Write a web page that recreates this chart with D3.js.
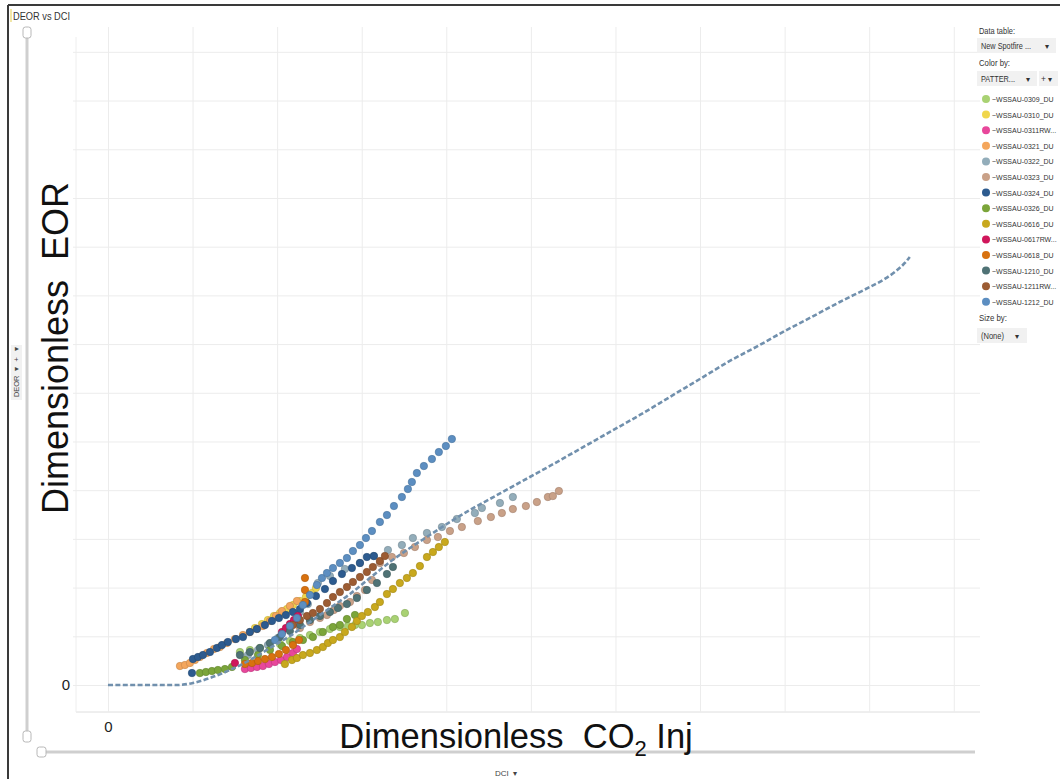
<!DOCTYPE html>
<html><head><meta charset="utf-8">
<script src="https://cdn.jsdelivr.net/npm/d3@7"></script>
<style>html,body{margin:0;padding:0;background:#fff;}svg{display:block;}text{white-space:pre;}</style>
</head><body>
<svg id="c" width="1060" height="779"></svg>
<script>
// ---------------- DATA ----------------
const seriesNames = ["~WSSAU-0309_DU","~WSSAU-0310_DU","~WSSAU-0311RW...","~WSSAU-0321_DU","~WSSAU-0322_DU","~WSSAU-0323_DU","~WSSAU-0324_DU","~WSSAU-0326_DU","~WSSAU-0616_DU","~WSSAU-0617RW...","~WSSAU-0618_DU","~WSSAU-1210_DU","~WSSAU-1211RW...","~WSSAU-1212_DU"];
const seriesColors = ["#a9d273","#f0d64c","#e8479b","#f4a65c","#93adba","#c9a188","#2d5b8f","#7ba53a","#c8a81d","#d0165b","#d8710f","#4f7275","#9c5c33","#5c8ec1"];

const s0309x=[1.560,1.678,1.797,1.915,2.033,2.151,2.270,2.388,2.506,2.624,2.742,2.837,2.920,3.002,3.097,3.191,3.298,3.392,3.511];
const s0309y=[0.677,0.719,0.760,0.801,0.842,0.903,0.965,1.027,1.088,1.150,1.191,1.211,1.232,1.232,1.273,1.293,1.334,1.355,1.478];
const s0310x=[1.738,1.820,1.891,1.962,2.033,2.116,2.187,2.270,2.340,2.411,2.459];
const s0310y=[1.170,1.252,1.334,1.417,1.478,1.560,1.642,1.725,1.807,1.889,1.991];
const s0311x=[1.619,1.690,1.761,1.832,1.903,1.974,2.045,2.116,2.187,2.234];
const s0311y=[0.328,0.349,0.370,0.390,0.431,0.472,0.513,0.575,0.657,0.739];
const s0321x=[0.851,0.910,0.969,1.028,1.087,1.170,1.253,1.324,1.407,1.501,1.596,1.678,1.761,1.832,1.915,1.986,2.057,2.151,2.234];
const s0321y=[0.390,0.411,0.452,0.513,0.575,0.657,0.739,0.780,0.862,0.944,1.027,1.088,1.150,1.211,1.314,1.417,1.519,1.622,1.725];
const s0322x=[1.655,1.773,1.891,2.009,2.128,2.270,2.364,2.482,2.624,2.801,2.979,3.144,3.310,3.475,3.605,3.771,3.948,4.125,4.338,4.421,4.634,4.787];
const s0322y=[0.616,0.719,0.821,0.965,1.170,1.499,1.663,2.094,2.238,2.381,2.505,2.648,2.772,2.874,3.018,3.121,3.244,3.408,3.531,3.634,3.737,3.860];
const s0323x=[2.270,2.388,2.506,2.589,2.671,2.742,2.861,2.943,3.038,3.121,3.215,3.357,3.499,3.629,3.771,3.901,4.043,4.184,4.373,4.527,4.657,4.787,4.941,5.071,5.201,5.260,5.331];
const s0323y=[1.170,1.293,1.376,1.437,1.540,1.622,1.704,1.827,1.950,2.156,2.505,2.628,2.710,2.833,2.977,3.038,3.162,3.244,3.367,3.449,3.531,3.613,3.675,3.757,3.860,3.880,3.983];
const s0324x=[0.993,1.005,1.064,1.123,1.206,1.288,1.348,1.418,1.513,1.596,1.678,1.761,1.856,1.939,2.021,2.104,2.187,2.270,2.352,2.459,2.565,2.660,2.766,2.884,2.979,3.061,3.144];
const s0324y=[0.246,0.534,0.575,0.616,0.677,0.760,0.821,0.883,0.944,0.985,1.088,1.150,1.232,1.314,1.376,1.437,1.499,1.560,1.683,1.827,1.971,2.135,2.279,2.402,2.505,2.628,2.648];
const s0326x=[1.087,1.158,1.229,1.300,1.383,1.466,1.619,1.773,1.915,2.057,2.187,2.305,2.423,2.541,2.660,2.742,2.825,2.920];
const s0326y=[0.246,0.267,0.287,0.308,0.328,0.370,0.513,0.616,0.719,0.801,0.883,0.924,0.985,1.088,1.191,1.232,1.355,1.437];
const s0616x=[2.092,2.175,2.234,2.305,2.388,2.470,2.541,2.600,2.660,2.742,2.801,2.884,2.943,3.002,3.073,3.156,3.215,3.298,3.369,3.451,3.534,3.605,3.688,3.771,3.842,3.912,3.983];
const s0616y=[0.431,0.513,0.554,0.616,0.657,0.719,0.780,0.862,0.924,0.985,1.088,1.191,1.314,1.417,1.499,1.601,1.704,1.868,1.971,2.094,2.197,2.299,2.443,2.628,2.730,2.833,2.936];
const s0617x=[1.501,2.057,2.104,2.151,2.199,2.246];
const s0617y=[0.452,1.088,1.170,1.252,1.334,1.417];
const s0618x=[1.619,1.702,1.773,1.856,1.939,2.021,2.104,2.187,2.258,2.329,2.329,2.329];
const s0618y=[0.431,0.452,0.493,0.534,0.575,0.637,0.719,0.821,0.924,1.704,1.951,2.197];
const s1210x=[1.560,1.678,1.797,1.915,2.033,2.151,2.270,2.388,2.506,2.624,2.719,2.825,2.943,3.061,3.180,3.298,3.369];
const s1210y=[0.616,0.677,0.760,0.862,0.985,1.109,1.232,1.334,1.417,1.499,1.581,1.663,1.786,1.951,2.094,2.279,2.423];
const s1211x=[2.187,2.270,2.352,2.423,2.506,2.589,2.660,2.742,2.825,2.896,2.979,3.061,3.132,3.215,3.274];
const s1211y=[1.232,1.334,1.417,1.478,1.560,1.683,1.807,1.909,2.012,2.115,2.217,2.320,2.423,2.546,2.648];
const s1212x=[1.974,2.057,2.151,2.234,2.305,2.388,2.470,2.530,2.589,2.660,2.742,2.825,2.896,2.979,3.050,3.121,3.215,3.298,3.381,3.475,3.546,3.593,3.652,3.735,3.830,3.912,3.995,4.066];
const s1212y=[0.924,1.047,1.211,1.376,1.642,1.848,2.053,2.197,2.299,2.402,2.505,2.607,2.751,2.874,3.018,3.162,3.347,3.490,3.675,3.860,4.024,4.168,4.352,4.496,4.640,4.783,4.907,5.051];

// dashed reference curve
const curveX=[0,0.378,0.816,1.005,1.206,1.442,1.678,1.915,2.151,2.388,2.624,2.861,3.097,3.333,3.570,3.806,4.043,4.279,4.515,4.752,4.988,5.225,5.579,5.934,6.288,6.643,6.998,7.352,7.707,8.002,8.298,8.652,9.007,9.184,9.303,9.421,9.480];
const curveY=[0,0,0,0.041,0.144,0.308,0.513,0.760,1.006,1.294,1.581,1.869,2.197,2.526,2.813,3.080,3.347,3.593,3.819,4.045,4.271,4.497,4.846,5.195,5.544,5.914,6.283,6.653,6.982,7.269,7.536,7.864,8.172,8.337,8.480,8.665,8.789];

const xGrid=[0,1,2,3,4,5,6,7,8,9,10];
const yGrid=[0,1,2,3,4,5,6,7,8,9,10,11,12,13];
const xTickLabels={0:"0"};
const yTickLabels={0:"0"};

const seriesX=[s0309x,s0310x,s0311x,s0321x,s0322x,s0323x,s0324x,s0326x,s0616x,s0617x,s0618x,s1210x,s1211x,s1212x];
const seriesY=[s0309y,s0310y,s0311y,s0321y,s0322y,s0323y,s0324y,s0326y,s0616y,s0617y,s0618y,s1210y,s1211y,s1212y];

// ---------------- DRAW ----------------
const svg=d3.select("#c");
const F="Arial, 'Liberation Sans', sans-serif";
const L=76,R=980,T=27,B=712;
const x=d3.scaleLinear().domain([-0.378,10.31]).range([L,R]);
const y=d3.scaleLinear().domain([-0.554,13.51]).range([B,T]);

// frame
svg.append("rect").attr("x",0).attr("y",0).attr("width",1060).attr("height",779).attr("fill","#fff");
svg.append("line").attr("x1",8).attr("x2",1060).attr("y1",5).attr("y2",5).attr("stroke","#3a3a3a").attr("stroke-width",2);
svg.append("line").attr("x1",8).attr("x2",8).attr("y1",5).attr("y2",779).attr("stroke","#3a3a3a").attr("stroke-width",2);
svg.append("rect").attr("x",10).attr("y",9).attr("width",2).attr("height",13).attr("fill","#f1e6a6");
svg.append("text").attr("x",13).attr("y",20).attr("font-family",F).attr("font-size",10).attr("fill","#333")
  .attr("textLength",57).attr("lengthAdjust","spacingAndGlyphs").text("DEOR vs DCI");

// plot frame lines
svg.append("line").attr("x1",L).attr("x2",R).attr("y1",B).attr("y2",B).attr("stroke","#dedede");
svg.append("line").attr("x1",L).attr("x2",L).attr("y1",T+10).attr("y2",B).attr("stroke","#eeeeee");

// grid via axes
const gx=svg.append("g").attr("transform",`translate(0,${B})`)
  .call(d3.axisBottom(x).tickValues(xGrid).tickSize(-(B-T)).tickPadding(9).tickFormat(d=>xTickLabels[d]||""));
const gy=svg.append("g").attr("transform",`translate(${L},0)`)
  .call(d3.axisLeft(y).tickValues(yGrid).tickSize(-(R-L+3)).tickPadding(6).tickFormat(d=>yTickLabels[d]||""));
gy.selectAll(".tick line").attr("transform","translate(-3,0)");
[gx,gy].forEach(g=>{
  g.select(".domain").remove();
  g.selectAll(".tick line").attr("stroke","#ececec").attr("stroke-width",1);
  g.selectAll(".tick text").attr("font-family",F).attr("font-size",15).attr("fill","#222");
});

// sliders
svg.append("line").attr("x1",27).attr("x2",27).attr("y1",34).attr("y2",736).attr("stroke","#cfcfcf").attr("stroke-width",3);
svg.append("rect").attr("x",23).attr("y",27).attr("width",8).attr("height",11).attr("rx",2.5).attr("fill","#fff").attr("stroke","#b8b8b8");
svg.append("rect").attr("x",23).attr("y",731).attr("width",8).attr("height",11).attr("rx",2.5).attr("fill","#fff").attr("stroke","#b8b8b8");
svg.append("line").attr("x1",42).attr("x2",975).attr("y1",752).attr("y2",752).attr("stroke","#cfcfcf").attr("stroke-width",3);
svg.append("rect").attr("x",37).attr("y",747).attr("width",9).attr("height",10).attr("rx",2.5).attr("fill","#fff").attr("stroke","#b8b8b8");

// scatter
const plot=svg.append("g");
seriesX.forEach((xs,i)=>{
  const c=seriesColors[i];
  const pts=xs.map((v,j)=>({x:v,y:seriesY[i][j]}));
  plot.append("g").selectAll("circle").data(pts).join("circle")
    .attr("cx",d=>x(d.x)).attr("cy",d=>y(d.y)).attr("r",3.7)
    .attr("fill",c).attr("stroke",d3.color(c).darker(0.6)).attr("stroke-width",0.6);
});

// dashed curve
const cpts=curveX.map((v,j)=>({x:v,y:curveY[j]}));
svg.append("path").datum(cpts)
  .attr("d",d3.line().x(d=>x(d.x)).y(d=>y(d.y)).curve(d3.curveMonotoneX))
  .attr("fill","none").attr("stroke","#7190ad").attr("stroke-width",2.6).attr("stroke-dasharray","5,2.4");

// axis titles
svg.append("text").attr("transform","translate(68,348) rotate(-90)").attr("text-anchor","middle")
  .attr("font-family",F).attr("font-size",36).attr("fill","#111").text("Dimensionless  EOR");
const xt=svg.append("text").attr("x",516).attr("y",748).attr("text-anchor","middle")
  .attr("font-family",F).attr("font-size",34.5).attr("fill","#111");
xt.append("tspan").text("Dimensionless  CO");
xt.append("tspan").attr("font-size",22).attr("dy",8).text("2");
xt.append("tspan").attr("dy",-8).text(" Inj");

// axis selectors
svg.append("text").attr("x",495).attr("y",776).attr("font-family",F).attr("font-size",8).attr("fill","#444").text("DCI  \u25BE");
svg.append("rect").attr("x",11).attr("y",345).attr("width",11).attr("height",55).attr("fill","#f1f1f1");
svg.append("text").attr("transform","translate(19,397) rotate(-90)").attr("font-family",F).attr("font-size",7.5).attr("fill","#444")
  .attr("textLength",50).attr("lengthAdjust","spacing").text("DEOR  \u25BE   +   \u25BE");

// legend
const lg=svg.append("g").attr("font-family",F).attr("font-size",8.4).attr("fill","#333");
const tl=(sel,len)=>sel.attr("textLength",len).attr("lengthAdjust","spacingAndGlyphs");
tl(lg.append("text").attr("x",979).attr("y",34).text("Data table:"),36);
lg.append("rect").attr("x",977).attr("y",38).attr("width",79).attr("height",15).attr("fill","#f1f1f1");
tl(lg.append("text").attr("x",981).attr("y",48.5).text("New Spotfire ..."),50);
lg.append("text").attr("x",1045).attr("y",48.5).text("\u25BE");
tl(lg.append("text").attr("x",979).attr("y",66).text("Color by:"),31);
lg.append("rect").attr("x",977).attr("y",71).attr("width",60).attr("height",15).attr("fill","#f1f1f1");
lg.append("rect").attr("x",1039).attr("y",71).attr("width",19).attr("height",15).attr("fill","#f1f1f1");
tl(lg.append("text").attr("x",981).attr("y",81.5).text("PATTER..."),34);
lg.append("text").attr("x",1026).attr("y",81.5).text("\u25BE");
lg.append("text").attr("x",1041).attr("y",81.5).text("+ \u25BE");
seriesNames.forEach((n,i)=>{
  const yy=99+i*15.6;
  lg.append("circle").attr("cx",986).attr("cy",yy).attr("r",4).attr("fill",seriesColors[i]);
  lg.append("text").attr("x",992).attr("y",yy+3).attr("font-size",7).text(n);
});
tl(lg.append("text").attr("x",979).attr("y",321).text("Size by:"),28);
lg.append("rect").attr("x",977).attr("y",328).attr("width",50).attr("height",15).attr("fill","#f1f1f1");
tl(lg.append("text").attr("x",981).attr("y",338.5).text("(None)"),23);
lg.append("text").attr("x",1015).attr("y",338.5).text("\u25BE");
</script>
</body></html>
